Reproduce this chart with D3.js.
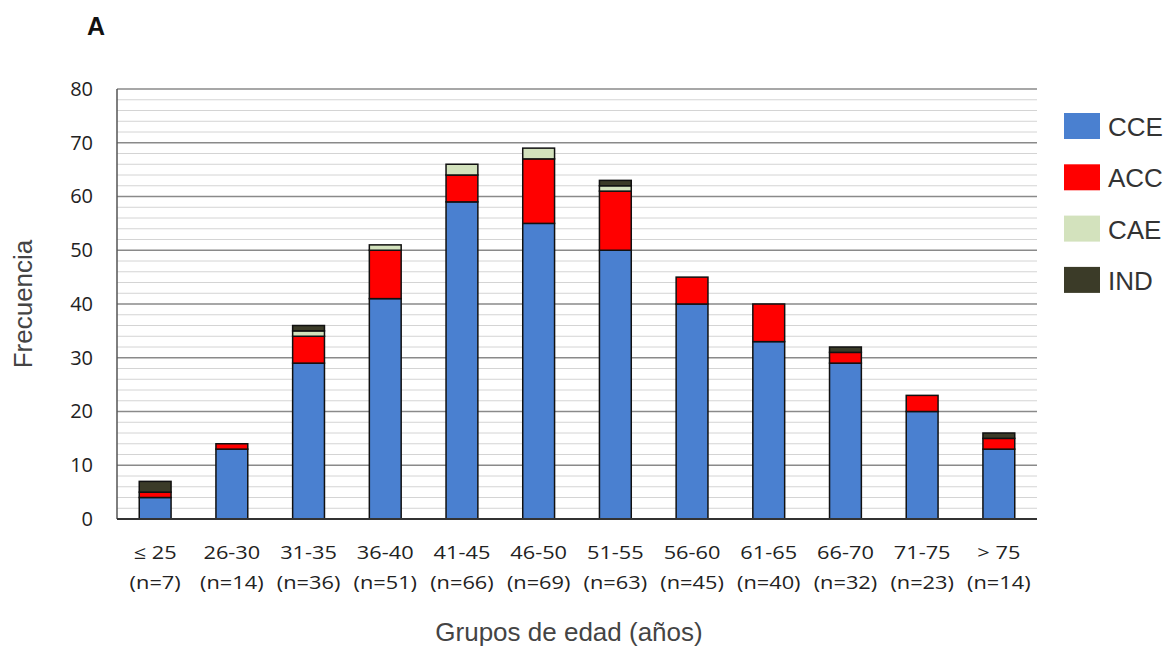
<!DOCTYPE html>
<html><head><meta charset="utf-8">
<script src="https://cdn.jsdelivr.net/npm/d3@7"></script>
<style>body{margin:0;background:#fff;} svg{display:block;font-family:"Open Sans",sans-serif;}</style>
</head><body>
<svg id="c" width="1176" height="649"></svg>
<script>
const categories = ["≤ 25","26-30","31-35","36-40","41-45","46-50","51-55","56-60","61-65","66-70","71-75","> 75"];
const nLabels = ["(n=7)","(n=14)","(n=36)","(n=51)","(n=66)","(n=69)","(n=63)","(n=45)","(n=40)","(n=32)","(n=23)","(n=14)"];
const seriesNames = ["CCE","ACC","CAE","IND"];
const CCE = [4,13,29,41,59,55,50,40,33,29,20,13];
const ACC = [1,1,5,9,5,12,11,5,7,2,3,2];
const CAE = [0,0,1,1,2,2,1,0,0,0,0,0];
const IND = [2,0,1,0,0,0,1,0,0,1,0,1];
const colors = ["#4a80d0","#ff0000","#d3e2bd","#3b3b28"];
const yTicks = [0,10,20,30,40,50,60,70,80];

const svg = d3.select("#c");
const m = {l:117, r:1037, t:89, b:519};
const x = d3.scaleBand().domain(categories).range([m.l, m.r]).paddingInner(0.585).paddingOuter(0.29);
const y = d3.scaleLinear().domain([0,80]).range([m.b, m.t]);

// minor gridlines
const minor = d3.range(2,80,2).filter(v => v%10 !== 0);
svg.append("g").selectAll("line").data(minor).join("line")
  .attr("x1", m.l).attr("x2", m.r).attr("y1", d=>y(d)).attr("y2", d=>y(d))
  .attr("stroke","#d4d4d4").attr("stroke-width",1);
// major gridlines
svg.append("g").selectAll("line").data(yTicks.filter(d=>d>0)).join("line")
  .attr("x1", m.l).attr("x2", m.r).attr("y1", d=>y(d)).attr("y2", d=>y(d))
  .attr("stroke","#8a8a8a").attr("stroke-width",1.3);

// bars
const rows = categories.map((c,i)=>({cat:c, CCE:CCE[i], ACC:ACC[i], CAE:CAE[i], IND:IND[i]}));
const stack = d3.stack().keys(seriesNames)(rows);
stack.forEach((layer, k) => {
  svg.append("g").selectAll("rect").data(layer.filter(d=>d[1]-d[0]>0)).join("rect")
    .attr("x", d=>x(d.data.cat)).attr("width", x.bandwidth())
    .attr("y", d=>y(d[1])).attr("height", d=>y(d[0])-y(d[1]))
    .attr("fill", colors[k]).attr("stroke","#111").attr("stroke-width",1.5);
});

// axes lines
svg.append("line").attr("x1",m.l).attr("x2",m.l).attr("y1",m.t).attr("y2",m.b).attr("stroke","#555").attr("stroke-width",1.5);
svg.append("line").attr("x1",m.l).attr("x2",m.r).attr("y1",m.b).attr("y2",m.b).attr("stroke","#333").attr("stroke-width",2);

// y tick labels
const yAxis = d3.axisLeft(y).tickValues(yTicks).tickSize(0).tickPadding(24);
const ya = svg.append("g").attr("transform",`translate(${m.l},0)`).call(yAxis);
ya.select(".domain").remove();
ya.selectAll("text").attr("font-size",20).attr("fill","#222").attr("font-family","Open Sans, sans-serif");

// x labels (horizontally stretched like the reference)
const xl = svg.append("g");
xl.selectAll("text.c").data(categories).join("text").attr("class","c")
  .attr("transform", d=>`translate(${x(d)+x.bandwidth()/2},559) scale(1.21,1)`).attr("text-anchor","middle")
  .attr("font-size",18).attr("fill","#222").text(d=>d);
xl.selectAll("text.n").data(nLabels).join("text").attr("class","n")
  .attr("transform", (d,i)=>`translate(${x(categories[i])+x.bandwidth()/2},589) scale(1.21,1)`).attr("text-anchor","middle")
  .attr("font-size",18).attr("fill","#222").text(d=>d);

// axis titles
svg.append("text").attr("x",569).attr("y",641).attr("text-anchor","middle")
  .attr("font-family","Liberation Sans, Arial, sans-serif")
  .attr("font-size",26).attr("fill","#444").text("Grupos de edad (años)");
svg.append("text").attr("transform","translate(32,304) rotate(-90)").attr("text-anchor","middle")
  .attr("font-family","Liberation Sans, Arial, sans-serif")
  .attr("font-size",26).attr("fill","#444").text("Frecuencia");

// panel letter
svg.append("text").attr("x",87).attr("y",35).attr("font-size",25).attr("font-weight","bold")
  .attr("font-family","Liberation Sans, Arial, sans-serif").attr("fill","#111").text("A");

// legend
const lg = svg.append("g");
seriesNames.forEach((s,i)=>{
  const yy = 113 + i*51.3;
  lg.append("rect").attr("x",1064).attr("y",yy).attr("width",36).attr("height",26).attr("fill",colors[i]);
  lg.append("text").attr("x",1108).attr("y",yy+23).attr("font-size",26)
    .attr("font-family","Liberation Sans, Arial, sans-serif").attr("fill","#333").text(s);
});
</script>
</body></html>
